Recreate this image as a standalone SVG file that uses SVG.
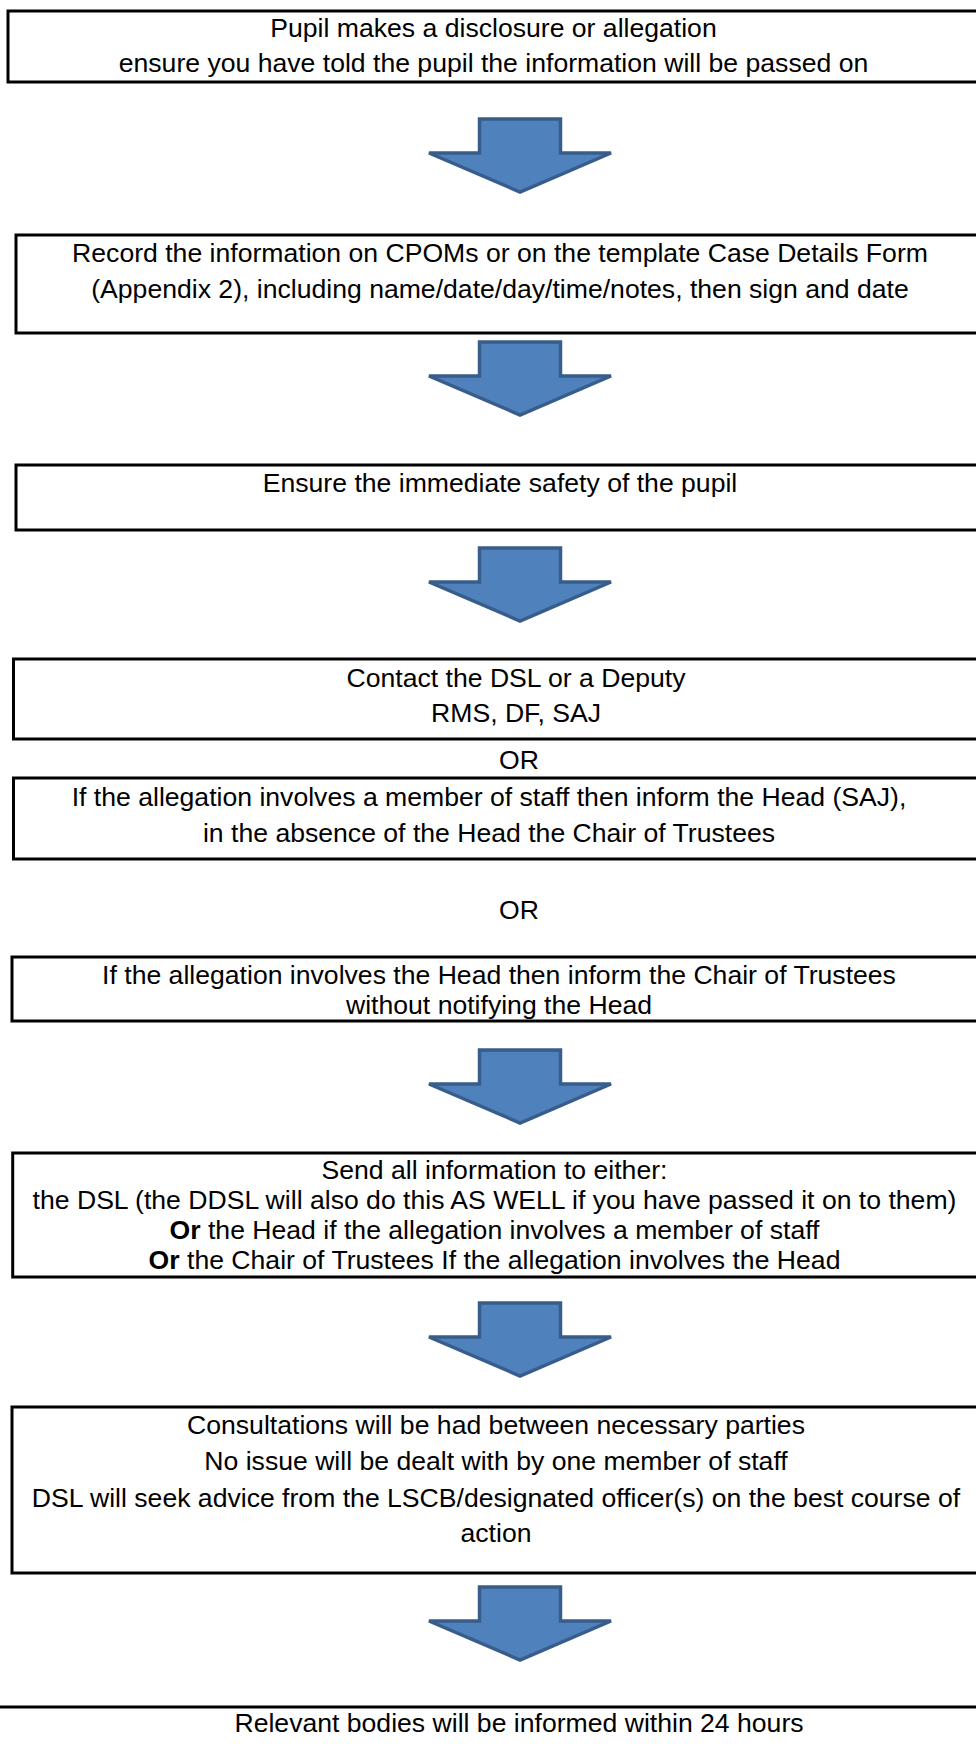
<svg xmlns="http://www.w3.org/2000/svg" width="976" height="1764" viewBox="0 0 976 1764">
<style>
.box{fill:#ffffff;stroke:#000000;stroke-width:3}
.t{font-family:"Liberation Sans",Arial,sans-serif;font-size:26.6px;fill:#000000;text-anchor:middle}
.b{font-weight:bold}
.arr{fill:#4F81BD;stroke:#385D8A;stroke-width:3.5;stroke-linejoin:miter}
</style>
<defs>
<path id="dn" d="M-40.5,2 H40.5 V36 H91 L0,75 L-91,36 H-40.5 Z"/>
</defs>
<rect width="976" height="1764" fill="#ffffff"/>
<g id="connectors">
<use href="#dn" class="arr" x="520" y="117"/>
<use href="#dn" class="arr" x="520" y="340"/>
<use href="#dn" class="arr" x="520" y="546"/>
<use href="#dn" class="arr" x="520" y="1048"/>
<use href="#dn" class="arr" x="520" y="1301"/>
<use href="#dn" class="arr" x="520" y="1585"/>
</g>
<g id="n1">
<rect class="box" x="8" y="11" width="1000" height="71"/>
<text class="t" x="493.5" y="37">Pupil makes a disclosure or allegation</text>
<text class="t" x="493.5" y="72">ensure you have told the pupil the information will be passed on</text>
</g>
<g id="n2">
<rect class="box" x="16" y="235" width="1000" height="98"/>
<text class="t" x="500" y="262">Record the information on CPOMs or on the template Case Details Form</text>
<text class="t" x="500" y="298">(Appendix 2), including name/date/day/time/notes, then sign and date</text>
</g>
<g id="n3">
<rect class="box" x="16" y="465" width="1000" height="65"/>
<text class="t" x="500" y="492">Ensure the immediate safety of the pupil</text>
</g>
<g id="n4">
<rect class="box" x="13.5" y="659" width="1000" height="80"/>
<text class="t" x="516" y="687">Contact the DSL or a Deputy</text>
<text class="t" x="516" y="722">RMS, DF, SAJ</text>
</g>
<g id="or1">
<text class="t" x="519" y="769">OR</text>
</g>
<g id="n5">
<rect class="box" x="13.5" y="778" width="1000" height="81"/>
<text class="t" x="489" y="806">If the allegation involves a member of staff then inform the Head (SAJ),</text>
<text class="t" x="489" y="842">in the absence of the Head the Chair of Trustees</text>
</g>
<g id="or2">
<text class="t" x="519" y="919">OR</text>
</g>
<g id="n6">
<rect class="box" x="12" y="957" width="1000" height="64"/>
<text class="t" x="499" y="984">If the allegation involves the Head then inform the Chair of Trustees</text>
<text class="t" x="499" y="1014">without notifying the Head</text>
</g>
<g id="n7">
<rect class="box" x="12.7" y="1153" width="1000" height="124"/>
<text class="t" x="494.5" y="1179">Send all information to either:</text>
<text class="t" x="494.5" y="1209">the DSL (the DDSL will also do this AS WELL if you have passed it on to them)</text>
<text class="t" x="494.5" y="1239"><tspan class="b">Or</tspan> the Head if the allegation involves a member of staff</text>
<text class="t" x="494.5" y="1269"><tspan class="b">Or</tspan> the Chair of Trustees If the allegation involves the Head</text>
</g>
<g id="n8">
<rect class="box" x="12" y="1407" width="1000" height="166"/>
<text class="t" x="496" y="1434">Consultations will be had between necessary parties</text>
<text class="t" x="496" y="1470">No issue will be dealt with by one member of staff</text>
<text class="t" x="496" y="1507">DSL will seek advice from the LSCB/designated officer(s) on the best course of</text>
<text class="t" x="496" y="1542">action</text>
</g>
<g id="n9">
<rect class="box" x="-10" y="1707" width="1020" height="80"/>
<text class="t" x="519" y="1732">Relevant bodies will be informed within 24 hours</text>
</g>
</svg>
